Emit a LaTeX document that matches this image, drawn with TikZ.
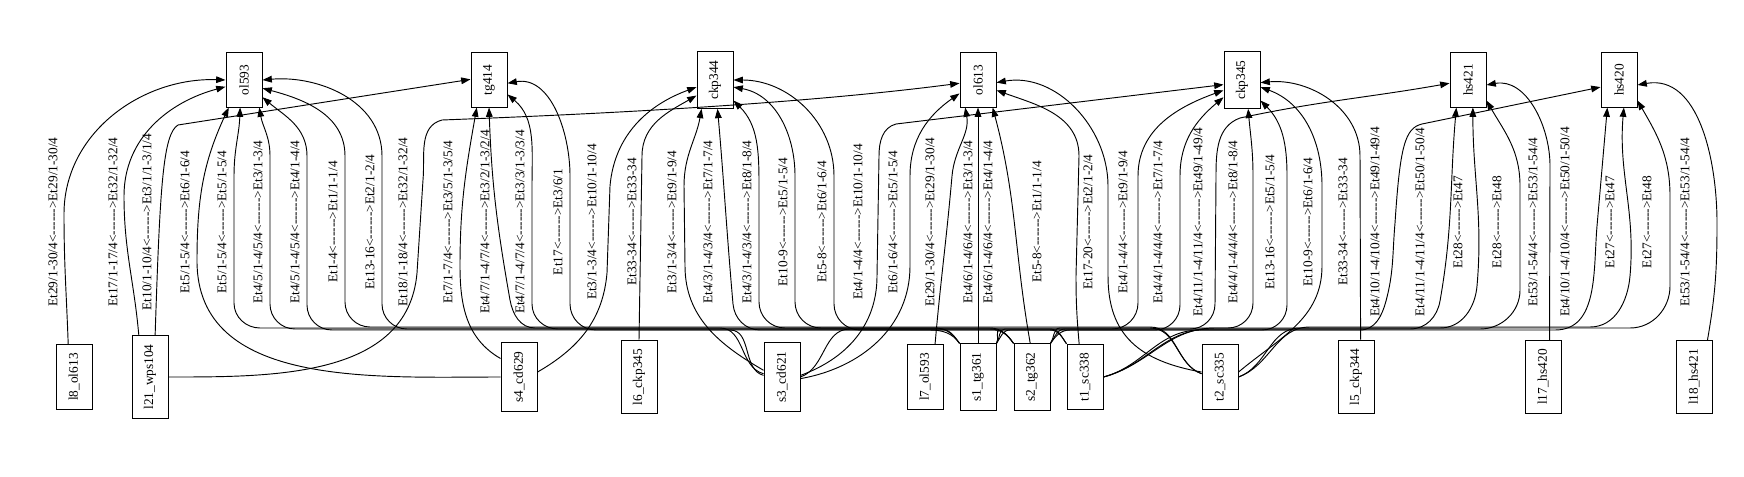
\documentclass[tikz,border=0pt]{standalone}
\usepackage{fontspec}
\setmainfont{Liberation Serif}
\usetikzlibrary{arrows.meta}
\newcommand{\dsh}{-\kern0pt}
\newcommand{\lr}{<\dsh\dsh\dsh\dsh\dsh\dsh>}
\tikzset{
    dev/.style={draw, line width=0.75pt, minimum width=27pt, inner xsep=2pt, inner ysep=6.5pt, font=\fontsize{10}{12}\selectfont},
    hub/.style={dev, minimum height=40.5pt},
    elab/.style={rotate=90, inner sep=0pt, font=\fontsize{10}{12}\selectfont},
    link/.style={-{Triangle[length=7pt,width=5pt]}, line width=0.7pt}
}

\begin{document}
\begin{tikzpicture}[x=0.75pt, y=0.75pt]
  \useasboundingbox (0,0) rectangle (1744,476);

  % Row 1: hubs
  \node[hub] (ol593)  at (244,396)  {\rotatebox{90}{ol593}};
  \node[hub] (tg414)  at (489,396)  {\rotatebox{90}{tg414}};
  \node[hub] (ckp344) at (715,396)  {\rotatebox{90}{ckp344}};
  \node[hub] (ol613)  at (978,396)  {\rotatebox{90}{ol613}};
  \node[hub] (ckp345) at (1242,396) {\rotatebox{90}{ckp345}};
  \node[hub] (hs421)  at (1468,396) {\rotatebox{90}{hs421}};
  \node[hub] (hs420)  at (1619,396) {\rotatebox{90}{hs420}};

  % Row 2: devices and links
  \node[dev] (l8_ol613)   at (74,99)   {\rotatebox{90}{l8\_ol613}};
  \node[dev] (l21_wps104) at (150,99)  {\rotatebox{90}{l21\_wps104}};
  \node[dev] (s4_cd629)   at (519,99)  {\rotatebox{90}{s4\_cd629}};
  \node[dev] (l6_ckp345)  at (639,99)  {\rotatebox{90}{l6\_ckp345}};
  \node[dev] (s3_cd621)   at (782,99)  {\rotatebox{90}{s3\_cd621}};
  \node[dev] (l7_ol593)   at (925,99)  {\rotatebox{90}{l7\_ol593}};
  \node[dev] (s1_tg361)   at (978,99)  {\rotatebox{90}{s1\_tg361}};
  \node[dev] (s2_tg362)   at (1032,99) {\rotatebox{90}{s2\_tg362}};
  \node[dev] (t1_sc338)   at (1085,99) {\rotatebox{90}{t1\_sc338}};
  \node[dev] (t2_sc335)   at (1220,99) {\rotatebox{90}{t2\_sc335}};
  \node[dev] (l5_ckp344)  at (1356,99) {\rotatebox{90}{l5\_ckp344}};
  \node[dev] (l17_hs420)  at (1543,99) {\rotatebox{90}{l17\_hs420}};
  \node[dev] (l18_hs421)  at (1694,99) {\rotatebox{90}{l18\_hs421}};

  % Port labels
  \node[elab] (lbl1)  at (53,254)   {Et29/1-30/4\lr Et29/1-30/4};
  \node[elab] (lbl2)  at (113,254)  {Et17/1-17/4\lr Et32/1-32/4};
  \node[elab] (lbl3)  at (147,254)  {Et10/1-10/4\lr Et3/1/1-3/1/4};
  \node[elab] (lbl4)  at (185,254)  {Et5/1-5/4\lr Et6/1-6/4};
  \node[elab] (lbl5)  at (222,254)  {Et5/1-5/4\lr Et5/1-5/4};
  \node[elab] (lbl6)  at (258,254)  {Et4/5/1-4/5/4\lr Et3/1-3/4};
  \node[elab] (lbl7)  at (295,254)  {Et4/5/1-4/5/4\lr Et4/1-4/4};
  \node[elab] (lbl8)  at (333,254)  {Et1-4\lr Et1/1-1/4};
  \node[elab] (lbl9)  at (370,254)  {Et13-16\lr Et2/1-2/4};
  \node[elab] (lbl10) at (403,254)  {Et18/1-18/4\lr Et32/1-32/4};
  \node[elab] (lbl11) at (448,254)  {Et7/1-7/4\lr Et3/5/1-3/5/4};
  \node[elab] (lbl12) at (485,254)  {Et4/7/1-4/7/4\lr Et3/2/1-3/2/4};
  \node[elab] (lbl13) at (520,254)  {Et4/7/1-4/7/4\lr Et3/3/1-3/3/4};
  \node[elab] (lbl14) at (558,254)  {Et17\lr Et3/6/1};
  \node[elab] (lbl15) at (592,254)  {Et3/1-3/4\lr Et10/1-10/4};
  \node[elab] (lbl16) at (632,254)  {Et33-34\lr Et33-34};
  \node[elab] (lbl17) at (672,254)  {Et3/1-3/4\lr Et9/1-9/4};
  \node[elab] (lbl18) at (708,254)  {Et4/3/1-4/3/4\lr Et7/1-7/4};
  \node[elab] (lbl19) at (747,254)  {Et4/3/1-4/3/4\lr Et8/1-8/4};
  \node[elab] (lbl20) at (783,254)  {Et10-9\lr Et5/1-5/4};
  \node[elab] (lbl21) at (822,254)  {Et5-8\lr Et6/1-6/4};
  \node[elab] (lbl22) at (858,254)  {Et4/1-4/4\lr Et10/1-10/4};
  \node[elab] (lbl23) at (893,254)  {Et6/1-6/4\lr Et5/1-5/4};
  \node[elab] (lbl24) at (930,254)  {Et29/1-30/4\lr Et29/1-30/4};
  \node[elab] (lbl25) at (968,254)  {Et4/6/1-4/6/4\lr Et3/1-3/4};
  \node[elab] (lbl26) at (988,254)  {Et4/6/1-4/6/4\lr Et4/1-4/4};
  \node[elab] (lbl27) at (1037,254) {Et5-8\lr Et1/1-1/4};
  \node[elab] (lbl28) at (1088,254) {Et17-20\lr Et2/1-2/4};
  \node[elab] (lbl29) at (1123,254) {Et4/1-4/4\lr Et9/1-9/4};
  \node[elab] (lbl30) at (1158,254) {Et4/4/1-4/4/4\lr Et7/1-7/4};
  \node[elab] (lbl31) at (1198,254) {Et4/11/1-4/11/4\lr Et49/1-49/4};
  \node[elab] (lbl32) at (1233,254) {Et4/4/1-4/4/4\lr Et8/1-8/4};
  \node[elab] (lbl33) at (1270,254) {Et13-16\lr Et5/1-5/4};
  \node[elab] (lbl34) at (1308,254) {Et10-9\lr Et6/1-6/4};
  \node[elab] (lbl35) at (1343,254) {Et33-34\lr Et33-34};
  \node[elab] (lbl36) at (1375,254) {Et4/10/1-4/10/4\lr Et49/1-49/4};
  \node[elab] (lbl37) at (1420,254) {Et4/11/1-4/11/4\lr Et50/1-50/4};
  \node[elab] (lbl38) at (1458,254) {Et28\lr Et47};
  \node[elab] (lbl39) at (1497,254) {Et28\lr Et48};
  \node[elab] (lbl40) at (1533,254) {Et53/1-54/4\lr Et53/1-54/4};
  \node[elab] (lbl41) at (1565,254) {Et4/10/1-4/10/4\lr Et50/1-50/4};
  \node[elab] (lbl42) at (1610,254) {Et27\lr Et47};
  \node[elab] (lbl43) at (1647,254) {Et27\lr Et48};
  \node[elab] (lbl44) at (1685,254) {Et53/1-54/4\lr Et53/1-54/4};

  % Links into ol593 and tg414
  \draw[link] (l8_ol613.100) to[out=92,in=-90] (64,262) to[out=90,in=178] (ol593.west);
  \draw[link] (l21_wps104.105) to[out=95,in=-90] (124,280) to[out=90,in=195] (ol593.200);
  \draw[link] (l21_wps104.83) .. controls (160,290) and (163,342) .. (178,351) -- (tg414.178);
  \draw[link] (s4_cd629.west) to[out=180,in=-90] (197,215) to[out=90,in=245] (ol593.241);
  \draw[link] (s3_cd621.170) to[out=165,in=0] (720,148) -- (260,148) to[out=180,in=-90] (234,173) -- (234,300) to[out=90,in=-92] (ol593.262);
  \draw[link] (s1_tg361.north west) to[out=125,in=0] (940,147) -- (295,147) to[out=180,in=-90] (270,172) -- (270,320) to[out=90,in=-80] (ol593.299);
  \draw[link] (s2_tg362.north west) to[out=125,in=0] (995,146) -- (332,146) to[out=180,in=-90] (307,171) -- (307,320) to[out=90,in=-40] (ol593.317);
  \draw[link] (t2_sc335.170) to[out=160,in=0] (1150,149) -- (370,149) to[out=180,in=-90] (345,174) -- (345,320) to[out=90,in=-15] (ol593.336);
  \draw[link] (t1_sc338.north west) to[out=125,in=0] (1050,147) -- (407,147) to[out=180,in=-90] (382,172) -- (382,320) to[out=90,in=5] (ol593.east);
  \draw[link] (l21_wps104.east) to[out=0,in=-95] (417,203) -- (423,296) to[out=85,in=195] (442,356) .. controls (600,362) and (800,372) .. (ol613.190);
  \draw[link] (s4_cd629.135) to[out=150,in=-90] (460,210) to[out=90,in=-100] (tg414.246);
  \draw[link] (s1_tg361.north west) to[out=125,in=0] (935,148) -- (535,148) to[out=180,in=-80] (510,176) to[out=100,in=-88] (tg414.south);
  \draw[link] (s2_tg362.north west) to[out=125,in=0] (990,147) -- (558,147) to[out=180,in=-90] (532,172) -- (532,290) to[out=90,in=-40] (tg414.322);
  \draw[link] (s3_cd621.175) to[out=165,in=0] (730,146) -- (596,146) to[out=180,in=-90] (570,172) -- (570,300) to[out=90,in=10] (tg414.350);

  % Links into ckp344 and ol613
  \draw[link] (s4_cd629.15) to[out=30,in=-95] (607,203) -- (610,290) to[out=85,in=200] (ckp344.201);
  \draw[link] (l6_ckp345.north) -- (642,320) to[out=90,in=210] (ckp344.220);
  \draw[link] (s3_cd621.160) to[out=150,in=-90] (685,210) -- (684,290) to[out=90,in=-100] (ckp344.245);
  \draw[link] (s1_tg361.north west) to[out=125,in=0] (930,146) -- (760,146) to[out=180,in=-85] (733,172) to[out=95,in=-85] (ckp344.275);
  \draw[link] (s2_tg362.north west) to[out=125,in=0] (990,148) -- (785,148) to[out=180,in=-90] (759,174) -- (759,290) to[out=90,in=-45] (ckp344.312);
  \draw[link] (t2_sc335.170) to[out=160,in=0] (1150,148) -- (821,148) to[out=180,in=-90] (795,174) -- (795,300) to[out=90,in=-10] (ckp344.339);
  \draw[link] (t1_sc338.north west) to[out=125,in=0] (1050,146) -- (860,146) to[out=180,in=-90] (834,172) -- (834,300) to[out=90,in=0] (ckp344.east);
  \draw[link] (s3_cd621.5) to[out=20,in=-90] (877,200) -- (879,320) to[out=90,in=195] (896,352) -- (ckp345.194);
  \draw[link] (s3_cd621.355) to[out=10,in=-90] (910,210) -- (910,300) to[out=90,in=215] (ol613.216);
  \draw[link] (l7_ol593.73) to[out=85,in=-95] (952,300) to[out=85,in=-80] (ol613.245);
  \draw[link] (s1_tg361.north) -- (ol613.south);
  \draw[link] (s2_tg362.93) to[out=100,in=-75] (ol613.298);
  \draw[link] (t2_sc335.165) .. controls (1140,115) and (1108,140) .. (1108,200) -- (1108,290) to[out=90,in=10] (ol613.352);
  \draw[link] (t1_sc338.100) to[out=95,in=-90] (1076,200) -- (1079,320) to[out=90,in=-20] (ol613.331);

  % Links into ckp345
  \draw[link] (s3_cd621.0) to[out=20,in=180] (850,147) -- (1112,147) to[out=0,in=-90] (1138,173) -- (1138,300) to[out=90,in=200] (ckp345.209);
  \draw[link] (s1_tg361.north east) to[out=55,in=180] (1000,146) -- (1155,146) to[out=0,in=-90] (1180,171) -- (1180,300) to[out=90,in=220] (ckp345.223);
  \draw[link] (s2_tg362.north east) to[out=55,in=180] (1060,148) -- (1228,148) to[out=0,in=-90] (1253,173) -- (1253,300) to[out=90,in=-85] (ckp345.282);
  \draw[link] (t1_sc338.east) to[out=15,in=180] (1200,146) -- (1262,146) to[out=0,in=-90] (1287,171) -- (1287,300) to[out=90,in=-45] (ckp345.312);
  \draw[link] (t2_sc335.15) to[out=40,in=-90] (1322,210) -- (1322,290) to[out=90,in=-20] (ckp345.339);
  \draw[link] (l5_ckp344.83) -- (1360,320) to[out=90,in=5] (ckp345.352);

  % Links into hs421 and hs420
  \draw[link] (s1_tg361.north east) to[out=55,in=180] (1005,147) -- (1190,147) to[out=0,in=-90] (1215,172) -- (1216,300) to[out=90,in=200] (1240,358) to[out=12,in=190] (hs421.190);
  \draw[link] (s1_tg361.north east) to[out=55,in=180] (1010,146) -- (1360,146) to[out=0,in=-105] (1386,175) to[out=75,in=-95] (1395,253) .. controls (1400,330) and (1405,348) .. (1422,352) -- (hs420.201);
  \draw[link] (s2_tg362.north east) to[out=55,in=180] (1065,147) -- (1410,147) to[out=0,in=-100] (1440,175) to[out=80,in=-95] (hs421.247);
  \draw[link] (t2_sc335.east) to[out=20,in=180] (1300,148) -- (1440,148) to[out=0,in=-95] (1477,190) to[out=85,in=-90] (hs421.280);
  \draw[link] (t1_sc338.east) to[out=15,in=180] (1210,147) -- (1480,147) to[out=0,in=-90] (1520,186) -- (1520,290) to[out=90,in=-60] (hs421.312);
  \draw[link] (l17_hs420.80) -- (1550,310) to[out=90,in=10] (hs421.345);
  \draw[link] (s2_tg362.north east) to[out=55,in=180] (1070,146) -- (1555,146) to[out=0,in=-95] (1597,250) to[out=85,in=-95] (hs420.247);
  \draw[link] (t2_sc335.east) to[out=20,in=180] (1310,149) -- (1590,149) to[out=0,in=-95] (1630,200) to[out=85,in=-95] (hs420.280);
  \draw[link] (t1_sc338.east) to[out=15,in=180] (1215,148) -- (1630,148) to[out=0,in=-90] (1670,190) -- (1670,280) to[out=90,in=-60] (hs420.312);
  \draw[link] (l18_hs421.70) to[out=80,in=-90] (1717,253) to[out=90,in=10] (hs420.345);

\end{tikzpicture}
\end{document}
